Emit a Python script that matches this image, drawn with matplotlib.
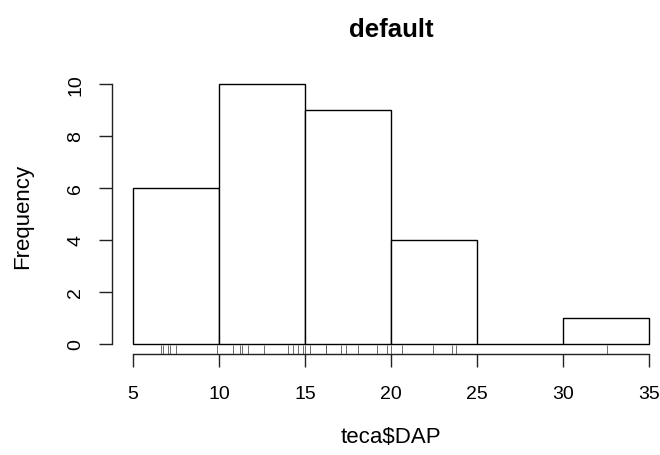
import matplotlib
matplotlib.use("Agg")
import matplotlib.pyplot as plt
import numpy as np

breaks = [5, 10, 15, 20, 25, 30, 35]
counts = [6, 10, 9, 4, 0, 1]
# individual DAP values
dap = [6.63, 6.76, 7.02, 7.15, 7.50, 9.90,
       10.83, 11.22, 11.35, 11.70, 12.63, 14.03, 14.28, 14.61, 14.86, 15.00,
       15.30, 16.20, 16.20, 17.09, 17.38, 18.06, 19.17, 19.79, 20.00,
       20.62, 22.46, 23.53, 23.78,
       32.56]
xticks = [5, 10, 15, 20, 25, 30, 35]
yticks = [0, 2, 4, 6, 8, 10]

plt.rcParams['font.family'] = ['Liberation Sans', 'DejaVu Sans']

W, H = 660, 456
fig = plt.figure(figsize=(W / 100, H / 100), dpi=100)
# plot region in pixels (R style, extends past right edge)
x0, x1, ytop, ybot = 112.4, 669.6, 74.6, 355.4
ax = fig.add_axes([x0 / W, 1 - ybot / H, (x1 - x0) / W, (ybot - ytop) / H])

widths = np.diff(breaks)
ax.bar(breaks[:-1], counts, width=widths, align='edge',
       facecolor='white', edgecolor='black', linewidth=1.0)

ax.vlines(dap, -0.4, -0.02, colors='#555555', linewidth=0.6)

ax.set_xlim(3.8, 36.2)
ax.set_ylim(-0.4, 10.4)

for s in ['top', 'right']:
    ax.spines[s].set_visible(False)
ax.spines['left'].set_bounds(0, 10)
ax.spines['bottom'].set_bounds(5, 35)
for s in ['left', 'bottom']:
    ax.spines[s].set_linewidth(1.0)
    ax.spines[s].set_color('#222222')

ax.set_xticks(xticks)
ax.set_yticks(yticks)
ax.tick_params(length=9.4, width=1.0, color='#222222', labelsize=14)
ax.tick_params(axis='x', pad=12.5)
ax.tick_params(axis='y', pad=11)
for lbl in ax.get_yticklabels():
    lbl.set_rotation(90)
    lbl.set_va('center')

fig.text(391 / W, 1 - 30 / H, 'default', ha='center', va='center',
         fontsize=18.5, fontweight='bold')
fig.text(391 / W, 1 - 438 / H, 'teca\\$DAP', ha='center', va='center', fontsize=16)
fig.text(23 / W, 1 - 216 / H, 'Frequency', ha='center', va='center',
         rotation=90, fontsize=16)

fig.savefig('out.png', dpi=100)
